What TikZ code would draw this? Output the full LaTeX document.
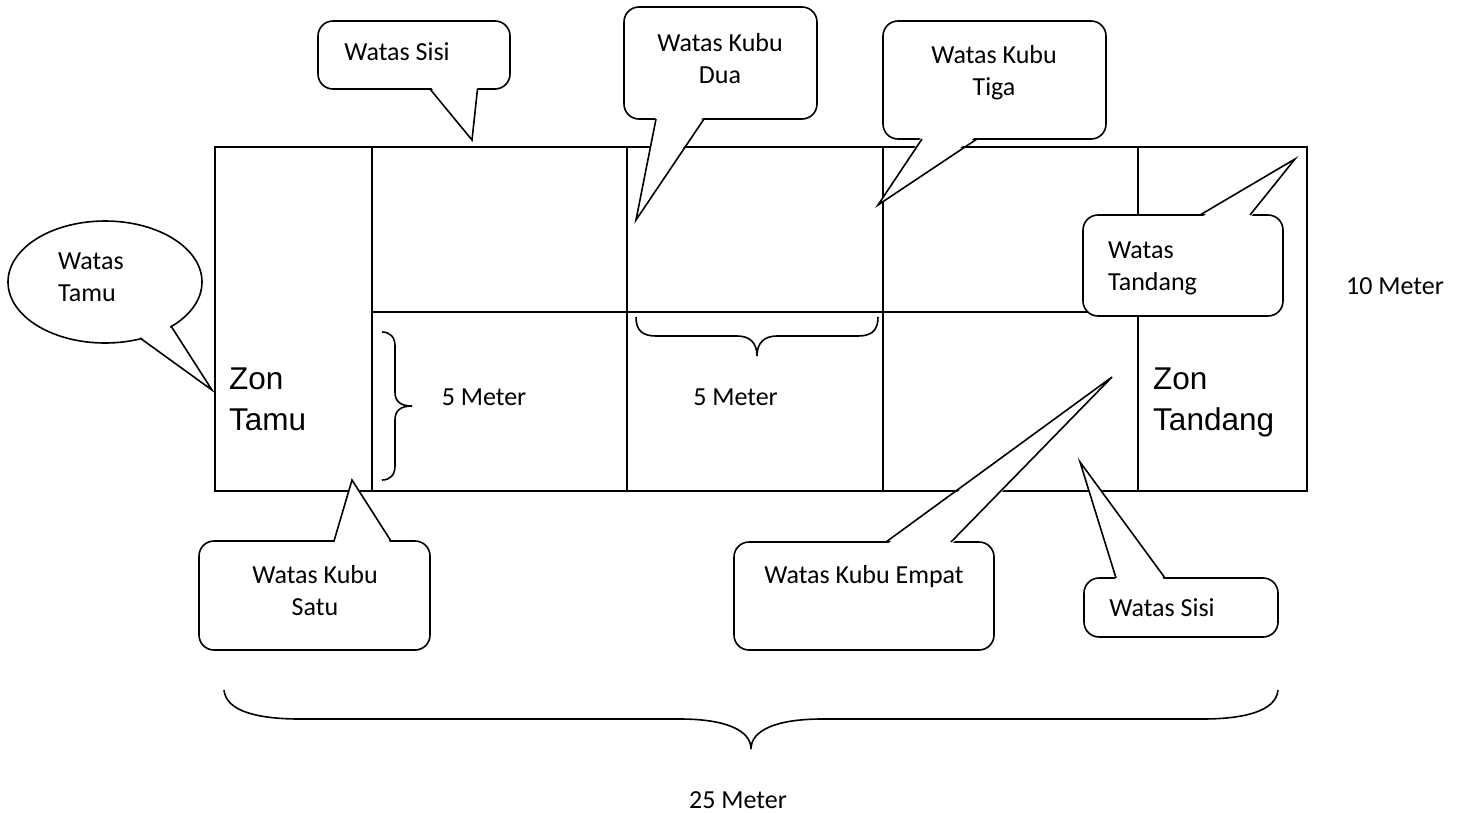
\documentclass[tikz,border=0pt]{standalone}
\usepackage{fontspec}
\setmainfont{Carlito}
\newfontfamily\arialf{Liberation Sans}
\begin{document}
\begin{tikzpicture}[x=1pt,y=-1pt,
  grid/.style={line width=2.6pt},
  cbox/.style={draw=black,line width=1.6pt,fill=white,rounded corners=15pt},
  cline/.style={draw=black,line width=1.6pt,line join=miter},
  brc/.style={draw=black,line width=1.6pt},
  lbl/.style={font=\fontsize{26}{32}\selectfont,inner sep=0pt,align=center},
  lbll/.style={font=\fontsize{26}{32}\selectfont,inner sep=0pt,align=left,anchor=west},
  zon/.style={font=\arialf\fontsize{31.5}{41}\selectfont,inner sep=0pt,align=left,anchor=west}]
\useasboundingbox (0,0) rectangle (1463,812);
% field
\draw[grid] (215,147) rectangle (1307,491);
\draw[grid] (372,147) -- (372,491);
\draw[grid] (627,147) -- (627,491);
\draw[grid] (883,147) -- (883,491);
\draw[grid] (1138,147) -- (1138,491);
\draw[grid] (372,312) -- (1138,312);
% braces
\draw[brc] (382,332) .. controls (390,332) and (395,337) .. (395,346) -- (395,392)
  .. controls (395,401) and (400,406) .. (412,406)
  .. controls (400,406) and (395,411) .. (395,420) -- (395,466)
  .. controls (395,475) and (390,480) .. (382,480);
\draw[brc] (636,317) .. controls (636,330) and (642,336) .. (656,336) -- (737,336)
  .. controls (750,336) and (757,343) .. (757,356)
  .. controls (757,343) and (764,336) .. (777,336) -- (858,336)
  .. controls (872,336) and (878,330) .. (878,317);
\draw[brc] (224,690) .. controls (226,712) and (260,719) .. (300,719) -- (680,719)
  .. controls (725,719) and (751,730) .. (751,749)
  .. controls (751,730) and (777,719) .. (822,719) -- (1202,719)
  .. controls (1242,719) and (1276,712) .. (1278,690);
% callout: Watas Sisi (top)
\draw[cbox] (318,21) rectangle (510,89);
\fill[white] (430,86) -- (472,140) -- (477.5,86) -- cycle;
\draw[cline] (430,89) -- (472,140) -- (477.5,89);
% callout: Watas Kubu Dua
\draw[cbox] (624,7) rectangle (817,119);
\fill[white] (656,116) -- (636,220) -- (704,116) -- cycle;
\draw[cline] (656,119) -- (636,220) -- (704,119);
% callout: Watas Kubu Tiga
\draw[cbox] (883,21) rectangle (1106,139);
\fill[white] (922,136) -- (878,205) -- (977,136) -- cycle;
\draw[cline] (922,139) -- (878,205) -- (977,139);
% callout: Watas Tandang
\draw[cbox] (1083,215) rectangle (1283,316);
\fill[white] (1200,218) -- (1295,159) -- (1250,218) -- cycle;
\draw[cline] (1200,215) -- (1295,159) -- (1250,215);
% callout: Watas Tamu (ellipse)
\draw[cbox] (105,282) ellipse [x radius=97pt, y radius=61pt];
\fill[white] (168,324) -- (212,390) -- (138,335) -- cycle;
\draw[cline] (171,326) -- (212,390) -- (140,338);
% callout: Watas Kubu Satu
\draw[cbox] (199,541) rectangle (430,650);
\fill[white] (334,544) -- (352,480) -- (391,544) -- cycle;
\draw[cline] (334,541) -- (352,480) -- (391,541);
% callout: Watas Kubu Empat
\draw[cbox] (734,542) rectangle (994,650);
\fill[white] (886,545) -- (1112,377) -- (951,545) -- cycle;
\draw[cline] (886,542) -- (1112,377) -- (951,542);
% callout: Watas Sisi (bottom)
\draw[cbox] (1084,578) rectangle (1278,637);
\fill[white] (1116,581) -- (1080,462) -- (1165,581) -- cycle;
\draw[cline] (1116,578) -- (1080,462) -- (1165,578);
% texts
\node[lbl] (sisiA) at (397,52) {Watas Sisi};
\node[lbl] (dua) at (720,59) {Watas Kubu\\Dua};
\node[lbl] (tiga) at (994,73) {Watas Kubu\\Tiga};
\node[lbll] (tandang) at (1108,268) {Watas\\Tandang};
\node[lbll] (tamu) at (58,277) {Watas\\Tamu};
\node[lbl] (satu) at (315,591) {Watas Kubu\\Satu};
\node[lbl] (empat) at (864,577) {Watas Kubu Empat};
\node[lbl] (sisiB) at (1162,608) {Watas Sisi};
\node[zon] (zt) at (229,399) {Zon\\Tamu};
\node[zon] (zd) at (1153,402) {Zon\\Tandang};
\node[lbl] (m5a) at (484,397) {5 Meter};
\node[lbl] (m5b) at (735.5,397) {5 Meter};
\node[lbl] (m10) at (1395,286) {10 Meter};
\node[lbl] (m25) at (738,800) {25 Meter};
\end{tikzpicture}
\end{document}
